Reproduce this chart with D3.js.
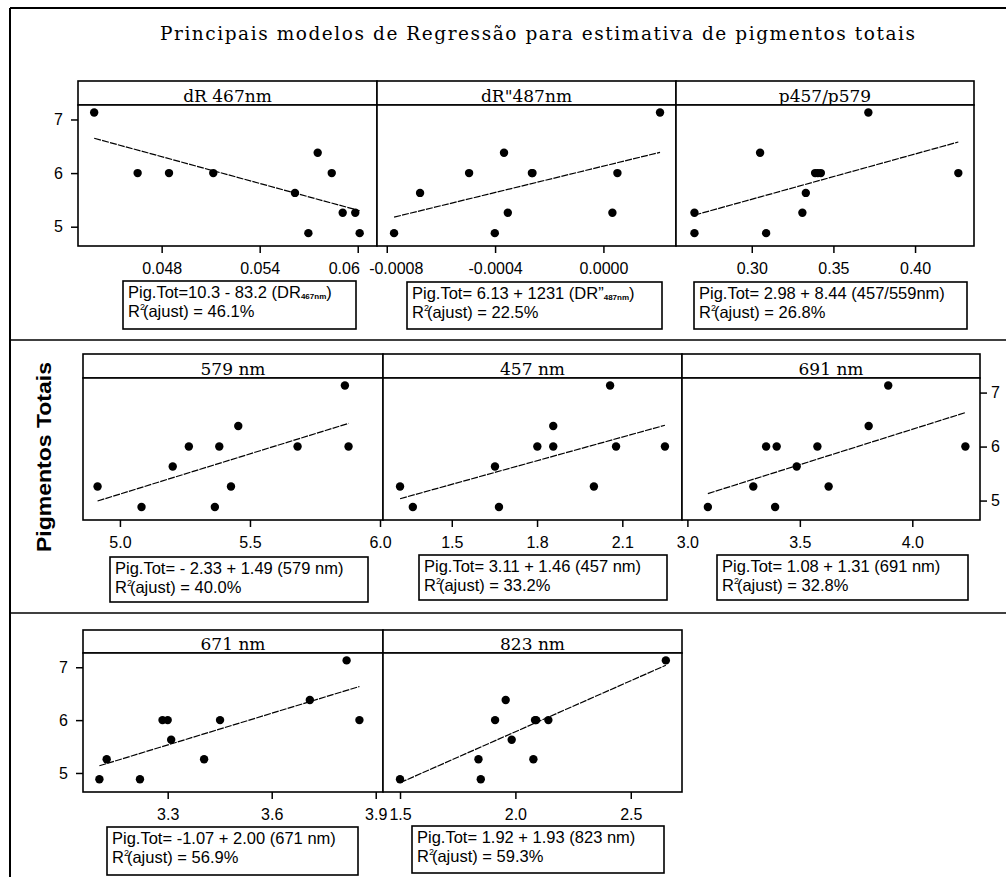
<!DOCTYPE html>
<html>
<head>
<meta charset="utf-8">
<script src="https://cdn.jsdelivr.net/npm/d3@7"></script>
<style>
  body { margin: 0; background: #fff; }
  svg { display: block; }
</style>
</head>
<body>
<svg id="chart" width="1006" height="877"></svg>
<script>
// ---- Data ----------------------------------------------------------
const chartTitle = "Principais modelos de Regressão para estimativa de pigmentos totais";
const yTitle = "Pigmentos Totais";

const panelTitles = ["dR 467nm", "dR\"487nm", "p457/p579", "579 nm", "457 nm", "691 nm", "671 nm", "823 nm"];

// predictor values (x) and total pigments (y) per panel
const xDR467 = [0.04387, 0.04653, 0.04845, 0.05116, 0.05616, 0.05698, 0.05755, 0.05841, 0.05908, 0.05985, 0.06012];
const yDR467 = [7.13, 6.00, 6.00, 6.00, 5.63, 4.88, 6.38, 6.00, 5.26, 5.26, 4.88];

const xDR487 = [-0.000773, -0.000677, -0.000496, -0.000401, -0.000367, -0.000353, -0.000264, -0.000262, 0.0000332, 0.0000517, 0.000209];
const yDR487 = [4.88, 5.63, 6.00, 4.88, 6.38, 5.26, 6.00, 6.00, 5.26, 6.00, 7.13];

const xRatio = [0.2649, 0.2649, 0.3051, 0.3088, 0.3310, 0.3331, 0.3388, 0.3405, 0.3423, 0.3714, 0.4265];
const yRatio = [5.26, 4.88, 6.38, 4.88, 5.26, 5.63, 6.00, 6.00, 6.00, 7.13, 6.00];

const x579 = [4.914, 5.083, 5.203, 5.265, 5.365, 5.382, 5.427, 5.455, 5.683, 5.865, 5.879];
const y579 = [5.26, 4.88, 5.63, 6.00, 4.88, 6.00, 5.26, 6.38, 6.00, 7.13, 6.00];

const x457 = [1.318, 1.363, 1.652, 1.666, 1.801, 1.857, 1.857, 2.000, 2.057, 2.078, 2.250];
const y457 = [5.26, 4.88, 5.63, 4.88, 6.00, 6.38, 6.00, 5.26, 7.13, 6.00, 6.00];

const x691 = [3.091, 3.293, 3.350, 3.390, 3.397, 3.486, 3.578, 3.628, 3.806, 3.893, 4.236];
const y691 = [4.88, 5.26, 6.00, 4.88, 6.00, 5.63, 6.00, 5.26, 6.38, 7.13, 6.00];

const x671 = [3.103, 3.124, 3.220, 3.285, 3.300, 3.310, 3.405, 3.451, 3.710, 3.816, 3.853];
const y671 = [4.88, 5.26, 4.88, 6.00, 6.00, 5.63, 5.26, 6.00, 6.38, 7.13, 6.00];

const x823 = [1.500, 1.840, 1.850, 1.912, 1.958, 1.984, 2.078, 2.085, 2.090, 2.143, 2.652];
const y823 = [4.88, 5.26, 4.88, 6.00, 6.38, 5.63, 5.26, 6.00, 6.00, 6.00, 7.13];

const xSeries = [xDR467, xDR487, xRatio, x579, x457, x691, x671, x823];
const ySeries = [yDR467, yDR487, yRatio, y579, y457, y691, y671, y823];

// fitted models: Pig.Tot = intercept + slope * x
const intercepts = [10.3, 6.13, 2.98, -2.33, 3.11, 1.08, -1.07, 1.92];
const slopes = [-83.2, 1231, 8.44, 1.49, 1.46, 1.31, 2.00, 1.93];

const eqMain = [
  "Pig.Tot=10.3 - 83.2 (DR",
  "Pig.Tot= 6.13 + 1231 (DR\u201d",
  "Pig.Tot= 2.98 + 8.44 (457/559nm)",
  "Pig.Tot= - 2.33 + 1.49 (579 nm)",
  "Pig.Tot= 3.11 + 1.46 (457 nm)",
  "Pig.Tot= 1.08 + 1.31 (691 nm)",
  "Pig.Tot= -1.07 + 2.00 (671 nm)",
  "Pig.Tot= 1.92 + 1.93 (823 nm)"
];
const eqSub = ["467nm", "487nm", null, null, null, null, null, null];
const rSquared = ["46.1%", "22.5%", "26.8%", "40.0%", "33.2%", "32.8%", "56.9%", "59.3%"];

const xDomains = [
  [0.04288, 0.06118], [-0.000836, 0.000268], [0.2536, 0.4361],
  [4.858, 6.0115], [1.258, 2.310], [2.976, 4.301],
  [3.0557, 3.921], [1.4263, 2.722]
];
const yDomain = [4.64, 7.27];

const xTicks = [
  [0.048, 0.054, 0.060], [-0.0008, -0.0004, 0], [0.30, 0.35, 0.40],
  [5.0, 5.5, 6.0], [1.5, 1.8, 2.1], [3.0, 3.5, 4.0],
  [3.3, 3.6, 3.9], [1.5, 2.0, 2.5]
];
const xTickLabels = [
  ["0.048", "0.054", "0.06"], ["-0.0008", "-0.0004", "0.0000"], ["0.30", "0.35", "0.40"],
  ["5.0", "5.5", "6.0"], ["1.5", "1.8", "2.1"], ["3.0", "3.5", "4.0"],
  ["3.3", "3.6", "3.9"], ["1.5", "2.0", "2.5"]
];
const yTicks = [5, 6, 7];

// ---- Layout --------------------------------------------------------
const rows = [
  { stripTop: 81, top: 105, bottom: 246, edges: [78, 377, 676, 974], yAxisSide: "left" },
  { stripTop: 354, top: 378, bottom: 520, edges: [83, 383, 682, 980], yAxisSide: "right" },
  { stripTop: 630, top: 653, bottom: 792, edges: [83, 383, 682], yAxisSide: "left" }
];
const boxes = [
  [123, 281, 233, 48], [407, 282, 255, 47], [694, 282, 273, 47],
  [110, 557, 258, 45], [419, 555, 248, 45], [717, 555, 251, 45],
  [107, 827, 251, 48], [412, 826, 252, 47]
];
// labels pushed sideways where neighbouring panels' end labels would collide
const labelNudge = { "0-2": -14, "1-0": 9 };

const sansFont = "'Liberation Sans', Arial, sans-serif";
const serifFont = "'DejaVu Serif', serif";
const ink = "#000";

const svg = d3.select("#chart");
svg.append("rect").attr("width", 1006).attr("height", 877).attr("fill", "#fff");

// outer frame and row separators
svg.append("line").attr("x1", 10).attr("y1", 8).attr("x2", 1006).attr("y2", 8)
  .attr("stroke", ink).attr("stroke-width", 2);
svg.append("line").attr("x1", 10).attr("y1", 8).attr("x2", 10).attr("y2", 877)
  .attr("stroke", ink).attr("stroke-width", 2);
[340, 613].forEach(yy => {
  svg.append("line").attr("x1", 10).attr("y1", yy).attr("x2", 1006).attr("y2", yy)
    .attr("stroke", ink).attr("stroke-width", 1.5);
});

// main title
svg.append("text")
  .attr("x", 160).attr("y", 40)
  .attr("font-family", serifFont).attr("font-size", 18.5)
  .attr("textLength", 755).attr("lengthAdjust", "spacing")
  .text(chartTitle);

// vertical axis title
svg.append("text")
  .attr("transform", "translate(51,457) rotate(-90)")
  .attr("text-anchor", "middle")
  .attr("font-family", sansFont).attr("font-weight", "bold").attr("font-size", 21)
  .attr("textLength", 190).attr("lengthAdjust", "spacingAndGlyphs")
  .text(yTitle);

xSeries.forEach((xs, i) => {
  const row = rows[Math.floor(i / 3)];
  const col = i % 3;
  const x0 = row.edges[col], x1 = row.edges[col + 1];
  const x = d3.scaleLinear().domain(xDomains[i]).range([x0, x1]);
  const y = d3.scaleLinear().domain(yDomain).range([row.bottom, row.top]);
  const g = svg.append("g");

  // strip header
  g.append("rect").attr("x", x0).attr("y", row.stripTop)
    .attr("width", x1 - x0).attr("height", row.top - row.stripTop)
    .attr("fill", "#fff").attr("stroke", ink).attr("stroke-width", 1.6);
  g.append("text")
    .attr("x", (x0 + x1) / 2).attr("y", row.top - 3)
    .attr("text-anchor", "middle")
    .attr("font-family", serifFont).attr("font-size", 17)
    .text(panelTitles[i]);

  // plot frame
  g.append("rect").attr("x", x0).attr("y", row.top)
    .attr("width", x1 - x0).attr("height", row.bottom - row.top)
    .attr("fill", "#fff").attr("stroke", ink).attr("stroke-width", 1.6);

  // fitted line over the range of the data
  const ext = d3.extent(xs);
  const fit = ext.map(v => [v, intercepts[i] + slopes[i] * v]);
  g.append("path")
    .attr("d", d3.line().x(d => x(d[0])).y(d => y(d[1]))(fit))
    .attr("fill", "none").attr("stroke", ink).attr("stroke-width", 1.2)
    .attr("stroke-dasharray", "7,1.2");

  // observations
  g.selectAll("circle.pt").data(xs.map((v, j) => [v, ySeries[i][j]]))
    .join("circle").attr("class", "pt")
    .attr("cx", d => x(d[0])).attr("cy", d => y(d[1])).attr("r", 4.2)
    .attr("fill", ink);

  // x axis
  const xa = g.append("g").attr("transform", `translate(0,${row.bottom})`)
    .call(d3.axisBottom(x).tickValues(xTicks[i])
      .tickFormat((d, j) => xTickLabels[i][j]).tickSize(7).tickPadding(10));
  xa.select(".domain").remove();
  xa.selectAll("line").attr("stroke", ink).attr("stroke-width", 1.5);
  xa.selectAll("text").attr("font-family", sansFont).attr("font-size", 16).attr("fill", ink)
    .attr("dx", (d, j) => labelNudge[`${i}-${j}`] || 0);

  // y axis on the outer panel of each row
  const isLeft = row.yAxisSide === "left" && col === 0;
  const isRight = row.yAxisSide === "right" && col === row.edges.length - 2;
  if (isLeft || isRight) {
    const axis = isLeft ? d3.axisLeft(y) : d3.axisRight(y);
    const ya = g.append("g").attr("transform", `translate(${isLeft ? x0 : x1},0)`)
      .call(axis.tickValues(yTicks).tickFormat(d3.format("d")).tickSize(7).tickPadding(isLeft ? 8 : 4));
    ya.select(".domain").remove();
    ya.selectAll("line").attr("stroke", ink).attr("stroke-width", 1.5);
    ya.selectAll("text").attr("font-family", sansFont).attr("font-size", 16).attr("fill", ink);
  }

  // equation box
  const [bx, by, bw, bh] = boxes[i];
  g.append("rect").attr("x", bx).attr("y", by).attr("width", bw).attr("height", bh)
    .attr("fill", "#fff").attr("stroke", ink).attr("stroke-width", 1.6);
  const t1 = g.append("text").attr("x", bx + 5).attr("y", by + 17)
    .attr("font-family", sansFont).attr("font-size", 16.5).attr("fill", ink);
  t1.append("tspan").text(eqMain[i]);
  if (eqSub[i]) {
    t1.append("tspan").attr("font-size", 8).attr("font-weight", "bold").attr("dy", 1).text(eqSub[i]);
    t1.append("tspan").attr("dy", -1).text(")");
  }
  const t2 = g.append("text").attr("x", bx + 5).attr("y", by + 36)
    .attr("font-family", sansFont).attr("font-size", 16.5).attr("fill", ink);
  t2.append("tspan").text("R");
  t2.append("tspan").attr("font-size", 9).attr("dy", -7).text("2");
  t2.append("tspan").attr("dy", 7).attr("dx", -2).text(`(ajust) = ${rSquared[i]}`);
});
</script>
</body>
</html>
